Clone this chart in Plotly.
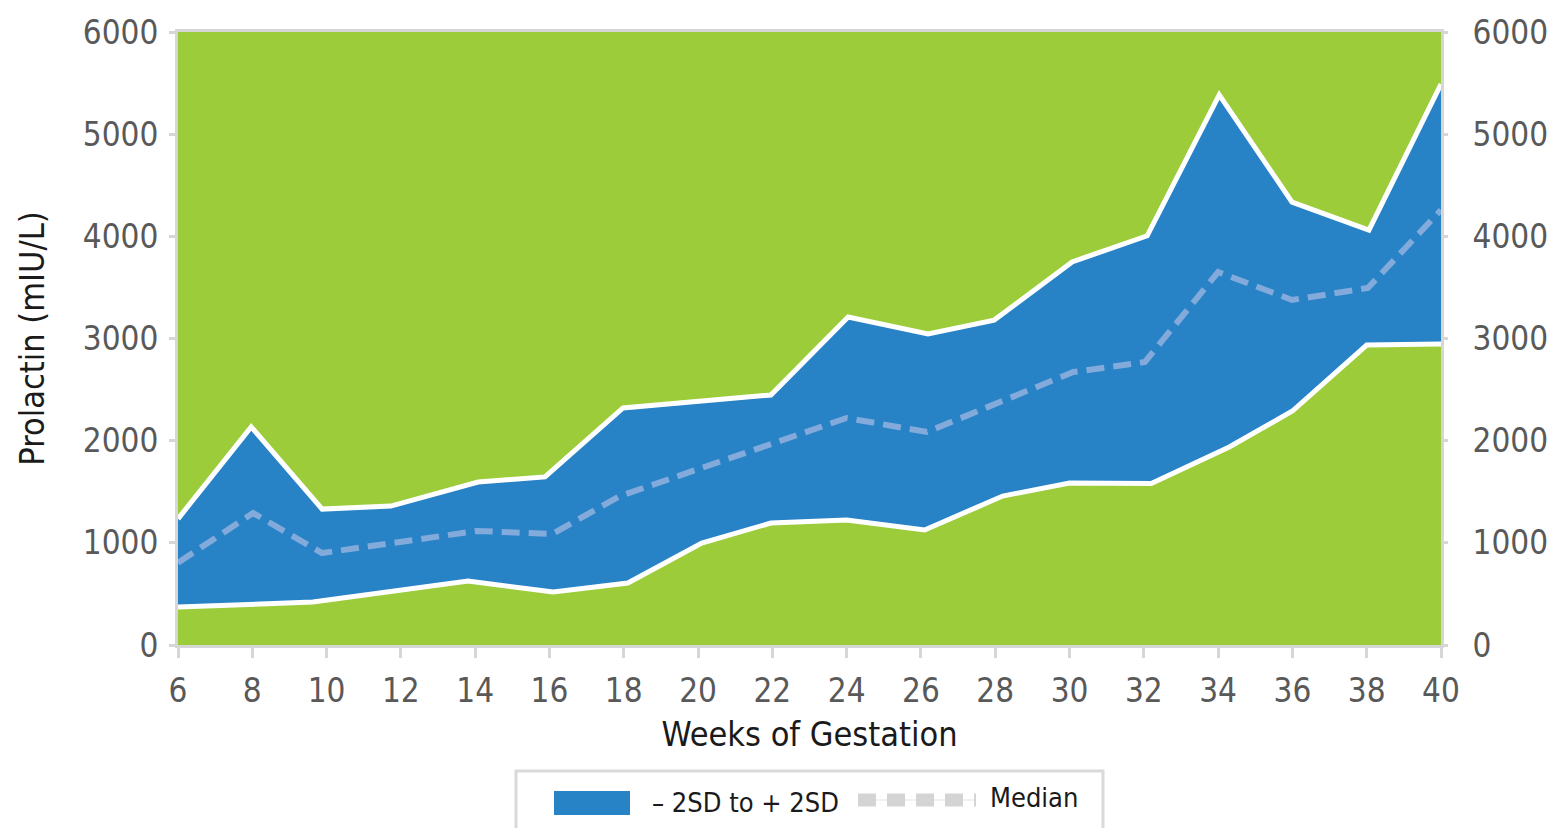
import plotly.graph_objects as go

# Data
upper_weeks = [6.0, 7.97, 9.88, 11.73, 14.08, 15.88, 17.98, 21.96, 24.04, 26.19, 27.97, 30.07, 32.09, 34.03, 35.99, 38.06, 40.0]
upper_vals = [1235, 2135, 1330, 1360, 1595, 1645, 2320, 2447, 3210, 3045, 3180, 3750, 4005, 5385, 4335, 4060, 5490]

lower_weeks = [6.0, 9.63, 13.81, 16.1, 18.11, 20.1, 21.96, 24.0, 26.1, 28.2, 30.0, 32.2, 34.3, 36.0, 38.0, 40.0]
lower_vals = [372, 420, 626, 519, 607, 998, 1194, 1223, 1126, 1458, 1586, 1580, 1938, 2290, 2936, 2946]

median_weeks = [6.0, 8.02, 9.88, 14.05, 16.07, 17.9, 24.0, 26.16, 30.1, 32.03, 34.0, 35.99, 38.03, 40.0]
median_vals = [805, 1292, 900, 1116, 1086, 1458, 2222, 2085, 2672, 2770, 3651, 3377, 3494, 4258]

x_ticks = list(range(6, 41, 2))
y_ticks = [0, 1000, 2000, 3000, 4000, 5000, 6000]

FONT = "Liberation Sans Narrow, DejaVu Sans Condensed, sans-serif"
GREEN = "#9dcc3b"
BLUE = "#2882c6"
MEDIAN_COLOR = "#82aada"
AXIS_GREY = "#d6d6d6"
TICK_TXT = "#595959"
TITLE_TXT = "#1a1a1a"

fig = go.Figure()

# Band fill: lower boundary (invisible), then upper filled to it
fig.add_trace(go.Scatter(x=lower_weeks, y=lower_vals, mode="lines",
                         line=dict(width=0, color=BLUE), showlegend=False, hoverinfo="skip"))
fig.add_trace(go.Scatter(x=upper_weeks, y=upper_vals, mode="lines", fill="tonexty",
                         fillcolor=BLUE, line=dict(width=0, color=BLUE),
                         name="– 2SD to + 2SD", showlegend=False))
# White boundary lines on top of the fill
fig.add_trace(go.Scatter(x=lower_weeks, y=lower_vals, mode="lines",
                         line=dict(width=5, color="white"), showlegend=False, name="-2SD"))
fig.add_trace(go.Scatter(x=upper_weeks, y=upper_vals, mode="lines",
                         line=dict(width=5, color="white"), showlegend=False, name="+2SD"))
# Median dashed
fig.add_trace(go.Scatter(x=median_weeks, y=median_vals, mode="lines",
                         line=dict(width=6, color=MEDIAN_COLOR, dash="18px,9px"),
                         name="Median", showlegend=False))
# Invisible trace to render right axis
fig.add_trace(go.Scatter(x=median_weeks, y=median_vals, mode="lines", yaxis="y2",
                         line=dict(width=0), opacity=0, showlegend=False, hoverinfo="skip"))

# The page body has an 8px margin, so the figure is sized/offset to compensate
fig.update_layout(
    width=1547, height=820,
    margin=dict(l=170, r=114, t=24, b=183),
    paper_bgcolor="white",
    plot_bgcolor=GREEN,
    font=dict(family=FONT, size=33, color=TICK_TXT),
    showlegend=False,
    xaxis=dict(
        range=[6, 40], tickmode="array", tickvals=x_ticks, ticktext=[str(t) for t in x_ticks],
        showgrid=False, zeroline=False, automargin=False,
        showline=True, linecolor=AXIS_GREY, linewidth=3, mirror=True,
        ticks="outside", ticklen=10, tickwidth=3, tickcolor=AXIS_GREY,
        tickfont=dict(family=FONT, size=33, color=TICK_TXT),
        ticklabelstandoff=4,
        title=dict(text="Weeks of Gestation", font=dict(family=FONT, size=34, color=TITLE_TXT), standoff=14),
    ),
    yaxis=dict(
        range=[0, 6000], tickmode="array", tickvals=y_ticks, ticktext=[str(t) for t in y_ticks],
        showgrid=False, zeroline=False, automargin=False,
        showline=True, linecolor=AXIS_GREY, linewidth=3, mirror=True,
        ticks="outside", ticklen=6, tickwidth=3, tickcolor=AXIS_GREY,
        tickfont=dict(family=FONT, size=33, color=TICK_TXT),
        ticklabelstandoff=4,
        title=dict(text="Prolactin (mIU/L)", font=dict(family=FONT, size=34, color=TITLE_TXT), standoff=28),
    ),
    yaxis2=dict(
        range=[0, 6000], overlaying="y", side="right", tickmode="array", tickvals=y_ticks,
        ticktext=[str(t) for t in y_ticks],
        showgrid=False, zeroline=False, showline=False, automargin=False,
        ticks="outside", ticklen=6, tickwidth=3, tickcolor=AXIS_GREY,
        tickfont=dict(family=FONT, size=33, color=TICK_TXT),
        ticklabelstandoff=18,
    ),
)

# Manual legend box (bottom, partly cut off like the reference)
def px_x(px):
    return (px - 178) / 1263

def px_y(py):
    return -(py - 645) / 613

shapes = [
    dict(type="rect", xref="paper", yref="paper",
         x0=px_x(516), x1=px_x(1103), y0=px_y(860), y1=px_y(771),
         line=dict(color="#d9d9d9", width=3), fillcolor="white", layer="above"),
    dict(type="rect", xref="paper", yref="paper",
         x0=px_x(554), x1=px_x(630), y0=px_y(815), y1=px_y(791),
         line=dict(width=0), fillcolor=BLUE, layer="above"),
    dict(type="line", xref="paper", yref="paper",
         x0=px_x(858), x1=px_x(976), y0=px_y(800), y1=px_y(800),
         line=dict(color="#e3e3e3", width=1), layer="above"),
    dict(type="line", xref="paper", yref="paper",
         x0=px_x(858), x1=px_x(976), y0=px_y(800), y1=px_y(800),
         line=dict(color="#d4d4d4", width=13, dash="18px,11px"), layer="above"),
]
fig.update_layout(shapes=shapes)

fig.add_annotation(xref="paper", yref="paper", x=px_x(650), y=px_y(802),
                   xanchor="left", yanchor="middle", showarrow=False,
                   text="– 2SD to + 2SD", font=dict(family=FONT, size=27, color=TITLE_TXT))
fig.add_annotation(xref="paper", yref="paper", x=px_x(988), y=px_y(797),
                   xanchor="left", yanchor="middle", showarrow=False,
                   text="Median", font=dict(family=FONT, size=27, color=TITLE_TXT))

fig.write_html("out.html")
